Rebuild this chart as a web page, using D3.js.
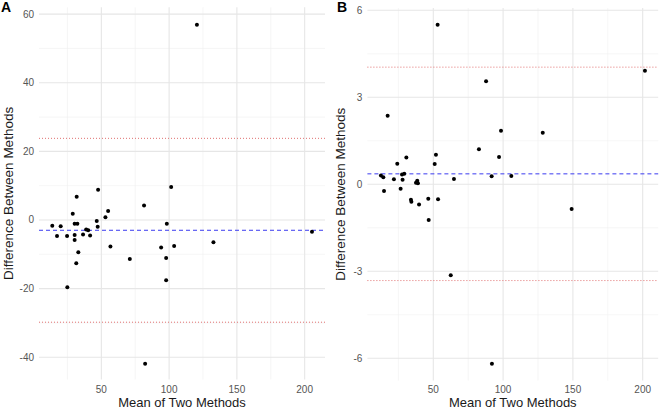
<!DOCTYPE html>
<html>
  <head>
    <meta charset="utf-8">
    <title>Bland-Altman</title>
    <script src="https://d3js.org/d3.v7.min.js"></script>
    <style>
      body { margin: 0; background: #fff; }
      text { font-family: "Liberation Sans", Arial, sans-serif; }
    </style>
  </head>
  <body>
    <div id="chart"></div>
    <script>
      // panel A : mean vs difference
      var meanA = [120.5, 31.8, 47.6, 101.5, 13.8, 17.3, 20.0, 28.9, 30.3, 32.3, 24.7, 30.3, 30.3, 33.0, 31.5, 24.9,
                   36.5, 38.8, 40.3, 41.7, 46.6, 47.3, 53.0, 55.0, 56.7, 71.0, 81.5, 82.3, 94.1, 98.3, 97.8, 97.8,
                   103.7, 132.7, 205.4];
      var diffA = [56.9, 6.8, 8.8, 9.6, -1.7, -4.7, -1.8, 1.8, -1.1, -1.1, -4.7, -4.4, -5.8, -9.4, -12.6, -19.6,
                   -4.2, -2.8, -3.0, -4.5, -0.3, -2.0, 0.8, 2.6, -7.7, -11.4, 4.2, -41.9, -8.0, -1.1, -11.1, -17.6,
                   -7.6, -6.5, -3.4];
      var linesA = {mean: -3.0, upper: 23.8, lower: -29.8};
      var yTicksA = [-40, -20, 0, 20, 40, 60];

      // panel B
      var meanB = [53.1, 87.8, 201.6, 17.3, 98.5, 128.4, 82.7, 51.9, 97.1, 30.7, 24.2, 51.0, 27.6, 29.2, 12.5, 14.2,
                   21.8, 28.0, 37.6, 38.5, 39.0, 91.8, 105.9, 64.8, 14.7, 26.6, 34.0, 34.3, 39.8, 46.4, 46.7, 53.4,
                   149.1, 62.5, 92.0];
      var diffB = [5.50, 3.55, 3.92, 2.36, 1.85, 1.78, 1.21, 1.02, 0.94, 0.92, 0.71, 0.70, 0.34, 0.36, 0.30, 0.24,
                   0.17, 0.16, 0.05, 0.12, 0.04, 0.28, 0.29, 0.18, -0.23, -0.15, -0.53, -0.60, -0.70, -0.50, -1.23, -0.52,
                   -0.85, -3.14, -6.19];
      var linesB = {mean: 0.36, upper: 4.04, lower: -3.32};
      var yTicksB = [-6, -3, 0, 3, 6];

      var xTicks = [50, 100, 150, 200];

      var W = 660, H = 409;
      var svg = d3.select("#chart").append("svg")
        .attr("width", W).attr("height", H);

      function panel(opts) {
        var x = d3.scaleLinear().domain(opts.xdom).range([opts.left, opts.right]);
        var y = d3.scaleLinear().domain(opts.ydom).range([opts.bottom, opts.top]);
        var g = svg.append("g");

        // minor grid lines (midpoints)
        var xMinor = [25, 75, 125, 175].filter(v => v > opts.xdom[0] && v < opts.xdom[1]);
        var yMinor = [];
        for (var i = 0; i < opts.yticks.length - 1; i++) yMinor.push((opts.yticks[i] + opts.yticks[i + 1]) / 2);
        g.selectAll(".xminor").data(xMinor).enter().append("line")
          .attr("x1", d => x(d)).attr("x2", d => x(d))
          .attr("y1", opts.top).attr("y2", opts.bottom)
          .attr("stroke", "#f0f0f0").attr("stroke-width", 0.6);
        g.selectAll(".yminor").data(yMinor).enter().append("line")
          .attr("x1", opts.left).attr("x2", opts.right)
          .attr("y1", d => y(d)).attr("y2", d => y(d))
          .attr("stroke", "#f0f0f0").attr("stroke-width", 0.6);

        // major grid lines
        g.selectAll(".xmajor").data(xTicks).enter().append("line")
          .attr("x1", d => x(d)).attr("x2", d => x(d))
          .attr("y1", opts.top).attr("y2", opts.bottom)
          .attr("stroke", "#e6e6e6").attr("stroke-width", 1.1);
        g.selectAll(".ymajor").data(opts.yticks).enter().append("line")
          .attr("x1", opts.left).attr("x2", opts.right)
          .attr("y1", d => y(d)).attr("y2", d => y(d))
          .attr("stroke", "#e6e6e6").attr("stroke-width", 1.1);

        // tick labels
        g.selectAll(".xlab").data(xTicks).enter().append("text")
          .attr("x", d => x(d)).attr("y", 392.5)
          .attr("text-anchor", "middle")
          .attr("font-size", 10).attr("fill", "#555")
          .text(d => d);
        g.selectAll(".ylab").data(opts.yticks).enter().append("text")
          .attr("x", opts.left - 5).attr("y", d => y(d) + 3.5)
          .attr("text-anchor", "end")
          .attr("font-size", 10).attr("fill", "#555")
          .text(d => d);

        // reference lines
        g.append("line")
          .attr("x1", opts.left).attr("x2", opts.right)
          .attr("y1", y(opts.lines.upper)).attr("y2", y(opts.lines.upper))
          .attr("stroke", "#e07070").attr("stroke-width", 1).attr("stroke-dasharray", "1,2");
        g.append("line")
          .attr("x1", opts.left).attr("x2", opts.right)
          .attr("y1", y(opts.lines.lower)).attr("y2", y(opts.lines.lower))
          .attr("stroke", "#e07070").attr("stroke-width", 1).attr("stroke-dasharray", "1,2");
        g.append("line")
          .attr("x1", opts.left).attr("x2", opts.right)
          .attr("y1", y(opts.lines.mean)).attr("y2", y(opts.lines.mean))
          .attr("stroke", "#3b3bf0").attr("stroke-width", 1).attr("stroke-dasharray", "4,3");

        // points
        g.selectAll("circle").data(d3.range(opts.xs.length)).enter().append("circle")
          .attr("cx", i => x(opts.xs[i])).attr("cy", i => y(opts.ys[i]))
          .attr("r", 2).attr("fill", "#000");

        // axis titles
        g.append("text")
          .attr("x", (opts.left + opts.right) / 2).attr("y", 406.5)
          .attr("text-anchor", "middle").attr("font-size", 13).attr("fill", "#1a1a1a")
          .text("Mean of Two Methods");
        g.append("text")
          .attr("transform", "translate(" + opts.ytitleX + "," + (opts.top + opts.bottom) / 2 + ") rotate(-90)")
          .attr("text-anchor", "middle").attr("font-size", 13.5).attr("fill", "#1a1a1a")
          .text("Difference Between Methods");

        // panel tag
        g.append("text")
          .attr("x", opts.tagX).attr("y", 12)
          .attr("font-size", 14).attr("font-weight", "bold").attr("fill", "#000")
          .text(opts.tag);
      }

      panel({
        tag: "A", tagX: 1, ytitleX: 13,
        xs: meanA, ys: diffA, lines: linesA, yticks: yTicksA,
        xdom: [4, 215], ydom: [-46.5, 62],
        left: 39, right: 325, top: 7.3, bottom: 379.5
      });
      panel({
        tag: "B", tagX: 337, ytitleX: 345,
        xs: meanB, ys: diffB, lines: linesB, yticks: yTicksB,
        xdom: [2.8, 211.1], ydom: [-6.77, 6.08],
        left: 367.4, right: 658.2, top: 8, bottom: 380.6
      });
    </script>
  </body>
</html>
